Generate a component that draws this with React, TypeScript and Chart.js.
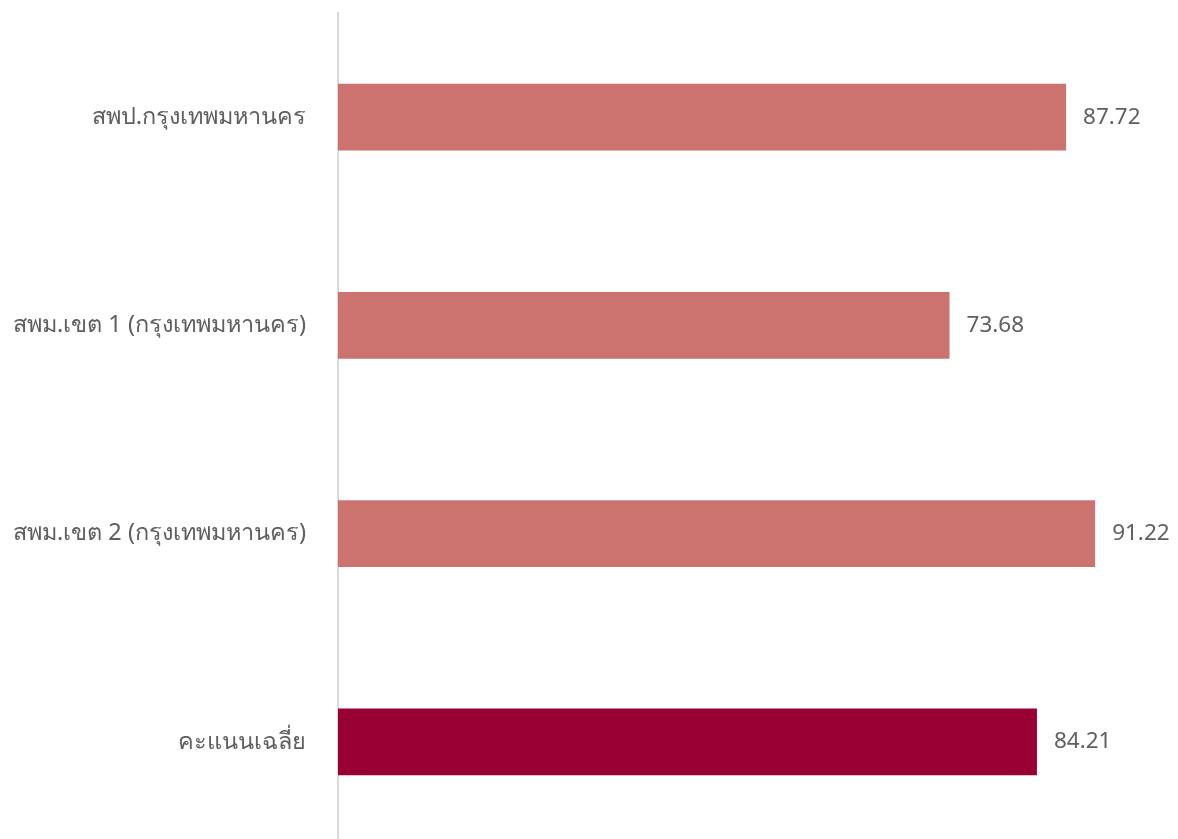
import React, { useEffect, useRef } from "react";
import { Chart, registerables } from "chart.js";

Chart.register(...registerables);

const categories: string[] = [
  "สพป.กรุงเทพมหานคร",
  "สพม.เขต 1 (กรุงเทพมหานคร)",
  "สพม.เขต 2 (กรุงเทพมหานคร)",
  "คะแนนเฉลี่ย",
];
const scores: number[] = [87.72, 73.68, 91.22, 84.21];
const barColors: string[] = ["#CC7370", "#CC7370", "#CC7370", "#990033"];

const FONT = "'Noto Sans', 'DejaVu Sans', sans-serif";
const TEXT_COLOR = "#5F5F5F";

const valueLabels = {
  id: "valueLabels",
  afterDatasetsDraw(chart: any) {
    const ctx = chart.ctx;
    const meta = chart.getDatasetMeta(0);
    ctx.save();
    ctx.font = `22.5px ${FONT}`;
    ctx.fillStyle = TEXT_COLOR;
    ctx.textAlign = "left";
    ctx.textBaseline = "middle";
    meta.data.forEach((bar: any, i: number) => {
      const v = chart.data.datasets[0].data[i] as number;
      ctx.fillText(v.toFixed(2), bar.x + 17, bar.y);
    });
    ctx.restore();
  },
};

export default function App() {
  const ref = useRef<HTMLCanvasElement | null>(null);
  useEffect(() => {
    document.body.style.margin = "0";
    const canvas = ref.current;
    if (!canvas) return;
    const chart = new Chart(canvas, {
      type: "bar",
      data: {
        labels: categories,
        datasets: [
          {
            data: scores,
            backgroundColor: barColors,
            categoryPercentage: 0.8,
            barPercentage: 0.4,
          },
        ],
      },
      options: {
        indexAxis: "y",
        animation: false,
        responsive: false,
        maintainAspectRatio: false,
        layout: { padding: { top: 13, bottom: 4, left: 0, right: 10 } },
        plugins: {
          legend: { display: false },
          tooltip: { enabled: false },
        },
        scales: {
          x: { display: false, min: 0, max: 100 },
          y: {
            grid: { display: false, drawTicks: false },
            border: { display: true, color: "#D9D9D9", width: 2 },
            ticks: {
              color: TEXT_COLOR,
              font: { family: FONT, size: 23.5 },
              padding: 32,
            },
            afterFit(scale: any) {
              scale.width = 338;
              scale.paddingTop = 0;
              scale.paddingBottom = 0;
            },
          },
        },
      },
      plugins: [valueLabels],
    });
    return () => chart.destroy();
  }, []);
  return (
    <div style={{ width: 1178, height: 850 }}>
      <canvas ref={ref} width={1178} height={850} style={{ display: "block" }} />
    </div>
  );
}
